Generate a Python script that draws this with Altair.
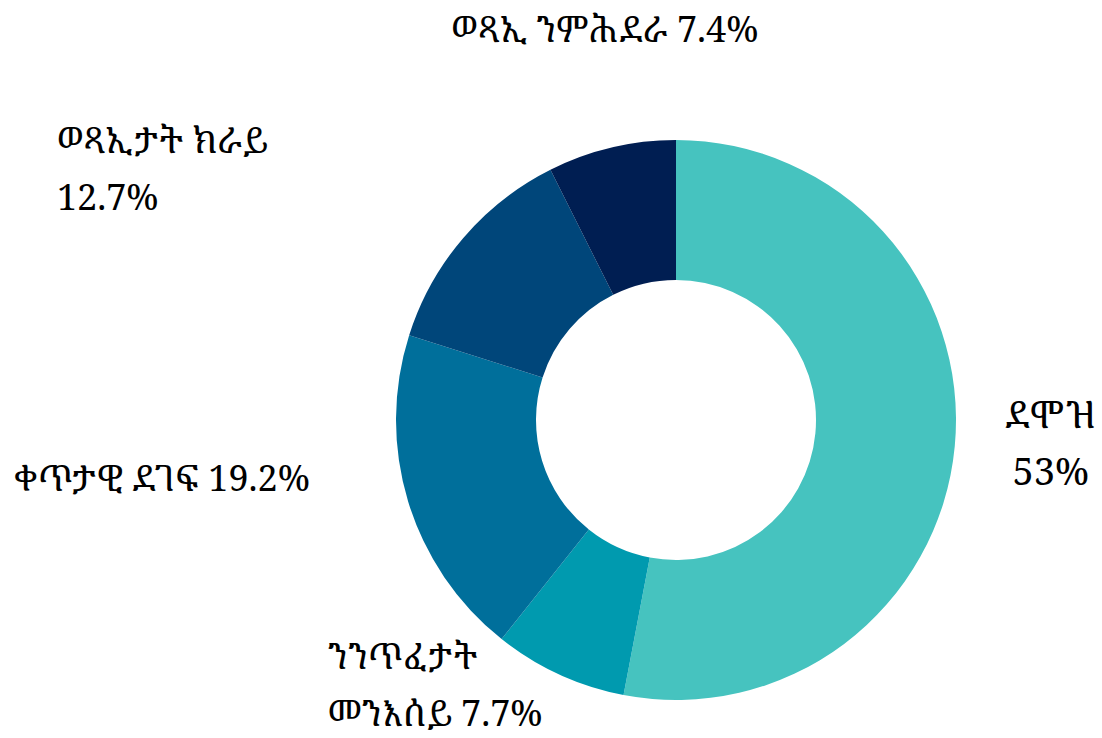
import math
import altair as alt
import pandas as pd

categories = ["ደሞዝ", "ንንጥፈታት መንእሰይ", "ቀጥታዊ ደገፍ", "ወጻኢታት ክራይ", "ወጻኢ ንምሕደራ"]
shares = [53.0, 7.7, 19.2, 12.7, 7.4]
display_labels = [
    "ደሞዝ\n53%",
    "ንንጥፈታት\nመንእሰይ 7.7%",
    "ቀጥታዊ ደገፍ 19.2%",
    "ወጻኢታት ክራይ\n12.7%",
    "ወጻኢ ንምሕደራ 7.4%",
]
colors = ["#46C3BF", "#009AAF", "#006F9B", "#00467A", "#001E52"]

df = pd.DataFrame({
    "idx": list(range(len(categories))),
    "category": categories,
    "share": shares,
    "label": display_labels,
})

CX, CY = 676, 420
FONT = "Noto Serif Ethiopic, Abyssinica SIL, DejaVu Serif, serif"

theta_scale = alt.Scale(domain=[0, 100], range=[0, 2 * math.pi])

base = alt.Chart(df).transform_stack(
    stack="share", groupby=[], as_=["t0", "t1"], sort=[alt.SortField("idx")]
).transform_calculate(mid="(datum.t0 + datum.t1) / 2")

arcs = base.mark_arc(outerRadius=280, innerRadius=140).encode(
    theta=alt.Theta("t0:Q", scale=theta_scale),
    theta2="t1:Q",
    color=alt.Color("category:N", scale=alt.Scale(domain=categories, range=colors), legend=None),
    x=alt.value(CX),
    y=alt.value(CY),
)

label_styles = [
    dict(align="center", dx=76, dy=-31, fontSize=38),
    dict(align="left", dx=-223, dy=-35, fontSize=36),
    dict(align="right", dx=-79, dy=-27, fontSize=36),
    dict(align="left", dx=-391, dy=-83, fontSize=36),
    dict(align="center", dx=-2, dy=-97, fontSize=36),
]

texts = []
for i, st in enumerate(label_styles):
    t = base.transform_filter(alt.datum.idx == i).mark_text(
        radius=300, baseline="middle", lineBreak="\n", lineHeight=57,
        font=FONT, color="#000000", **st
    ).encode(
        theta=alt.Theta("mid:Q", scale=theta_scale),
        text="label:N",
        x=alt.value(CX),
        y=alt.value(CY),
    )
    texts.append(t)

chart = alt.layer(*texts, arcs).properties(
    width=1102, height=738,
    autosize=alt.AutoSizeParams(type="none"),
    padding=0,
).configure_view(stroke=None)

chart.save("out.html", embed_options={"renderer": "svg", "actions": False})
